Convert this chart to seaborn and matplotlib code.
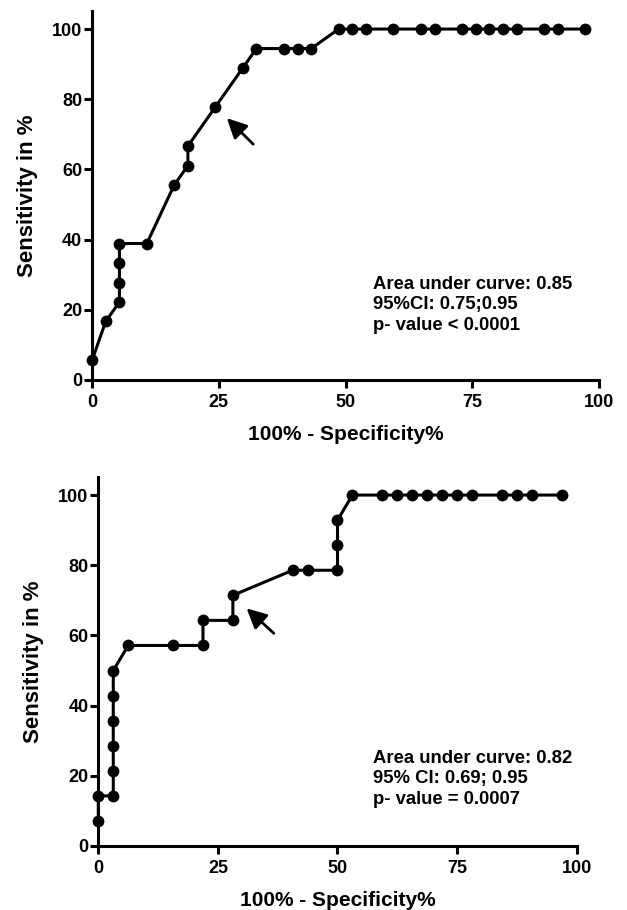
import matplotlib
matplotlib.use("Agg")
import matplotlib.pyplot as plt
import seaborn as sns

# ROC curve 1 (18 positives / 37 negatives)
top_fpr = [0, 2.70, 5.41, 5.41, 5.41, 5.41, 10.81, 16.22, 18.92, 18.92, 24.32,
           29.73, 32.43, 37.84, 40.54, 43.24, 48.65, 51.35, 54.05, 59.46, 64.86,
           67.57, 72.97, 75.68, 78.38, 81.08, 83.78, 89.19, 91.89, 97.30]
top_sens = [5.56, 16.67, 22.22, 27.78, 33.33, 38.89, 38.89, 55.56, 61.11, 66.67,
            77.78, 88.89, 94.44, 94.44, 94.44, 94.44, 100, 100, 100, 100, 100,
            100, 100, 100, 100, 100, 100, 100, 100, 100]
top_text = ["Area under curve: 0.85", "95%CI: 0.75;0.95", "p- value < 0.0001"]

# ROC curve 2 (14 positives / 32 negatives)
bot_fpr = [0, 0, 3.13, 3.13, 3.13, 3.13, 3.13, 3.13, 6.25, 15.63, 21.88, 21.88,
           28.13, 28.13, 40.63, 43.75, 50, 50, 50, 53.13, 59.38, 62.5, 65.63,
           68.75, 71.88, 75, 78.13, 84.38, 87.5, 90.63, 96.88]
bot_sens = [7.14, 14.29, 14.29, 21.43, 28.57, 35.71, 42.86, 50, 57.14, 57.14,
            57.14, 64.29, 64.29, 71.43, 78.57, 78.57, 78.57, 85.71, 92.86, 100,
            100, 100, 100, 100, 100, 100, 100, 100, 100, 100, 100]
bot_text = ["Area under curve: 0.82", "95% CI: 0.69; 0.95", "p- value = 0.0007"]

x_ticks = [0, 25, 50, 75, 100]
y_ticks = [0, 20, 40, 60, 80, 100]

sns.set_theme(style="ticks")
plt.rcParams["font.family"] = ["Liberation Sans", "DejaVu Sans"]
plt.rcParams["font.weight"] = "bold"

fig = plt.figure(figsize=(6.27, 9.1), dpi=100)
ax_top = fig.add_axes([92 / 627, 530 / 910, 507 / 627, 368.5 / 910])
ax_bot = fig.add_axes([98.3 / 627, 64 / 910, 478.4 / 627, 368.5 / 910])


def draw_roc(ax, fpr, sens, text_lines, text_xy, arrow_tip, arrow_tail):
    sns.lineplot(x=fpr, y=sens, sort=False, estimator=None, ax=ax,
                 color="black", linewidth=2.2, marker="o", markersize=8.5,
                 markeredgewidth=0, markerfacecolor="black", clip_on=False)
    ax.set_xlim(0, 100)
    ax.set_ylim(0, 105)
    ax.set_xticks(x_ticks)
    ax.set_yticks(y_ticks)
    for s in ["top", "right"]:
        ax.spines[s].set_visible(False)
    for s in ["left", "bottom"]:
        ax.spines[s].set_linewidth(2.2)
        ax.spines[s].set_color("black")
    ax.tick_params(axis="both", width=2.2, length=6, color="black",
                   labelsize=13, labelcolor="black")
    ax.tick_params(axis="y", pad=1)
    ax.tick_params(axis="x", pad=4)
    for lab in ax.get_xticklabels() + ax.get_yticklabels():
        lab.set_fontweight("bold")
    ax.set_xlabel("100% - Specificity%", fontsize=15, fontweight="bold",
                  color="black", labelpad=10)
    ax.set_ylabel("Sensitivity in %", fontsize=16, fontweight="bold",
                  color="black", labelpad=10)
    ax.annotate("", xy=arrow_tip, xytext=arrow_tail,
                arrowprops=dict(arrowstyle="-|>,head_length=1.0,head_width=0.5",
                                color="black", lw=2, shrinkA=0, shrinkB=0))
    x0, y0 = text_xy
    for i, line in enumerate(text_lines):
        ax.text(x0, y0 - i * 5.9, line, fontsize=13.3, fontweight="bold",
                color="black", ha="left", va="center")


draw_roc(ax_top, top_fpr, top_sens, top_text, (55.4, 27.3),
         (26.6, 74.6), (31.8, 67.2))
draw_roc(ax_bot, bot_fpr, bot_sens, bot_text, (57.4, 25.0),
         (31.0, 67.7), (36.7, 60.6))

fig.savefig("out.png", dpi=100)
